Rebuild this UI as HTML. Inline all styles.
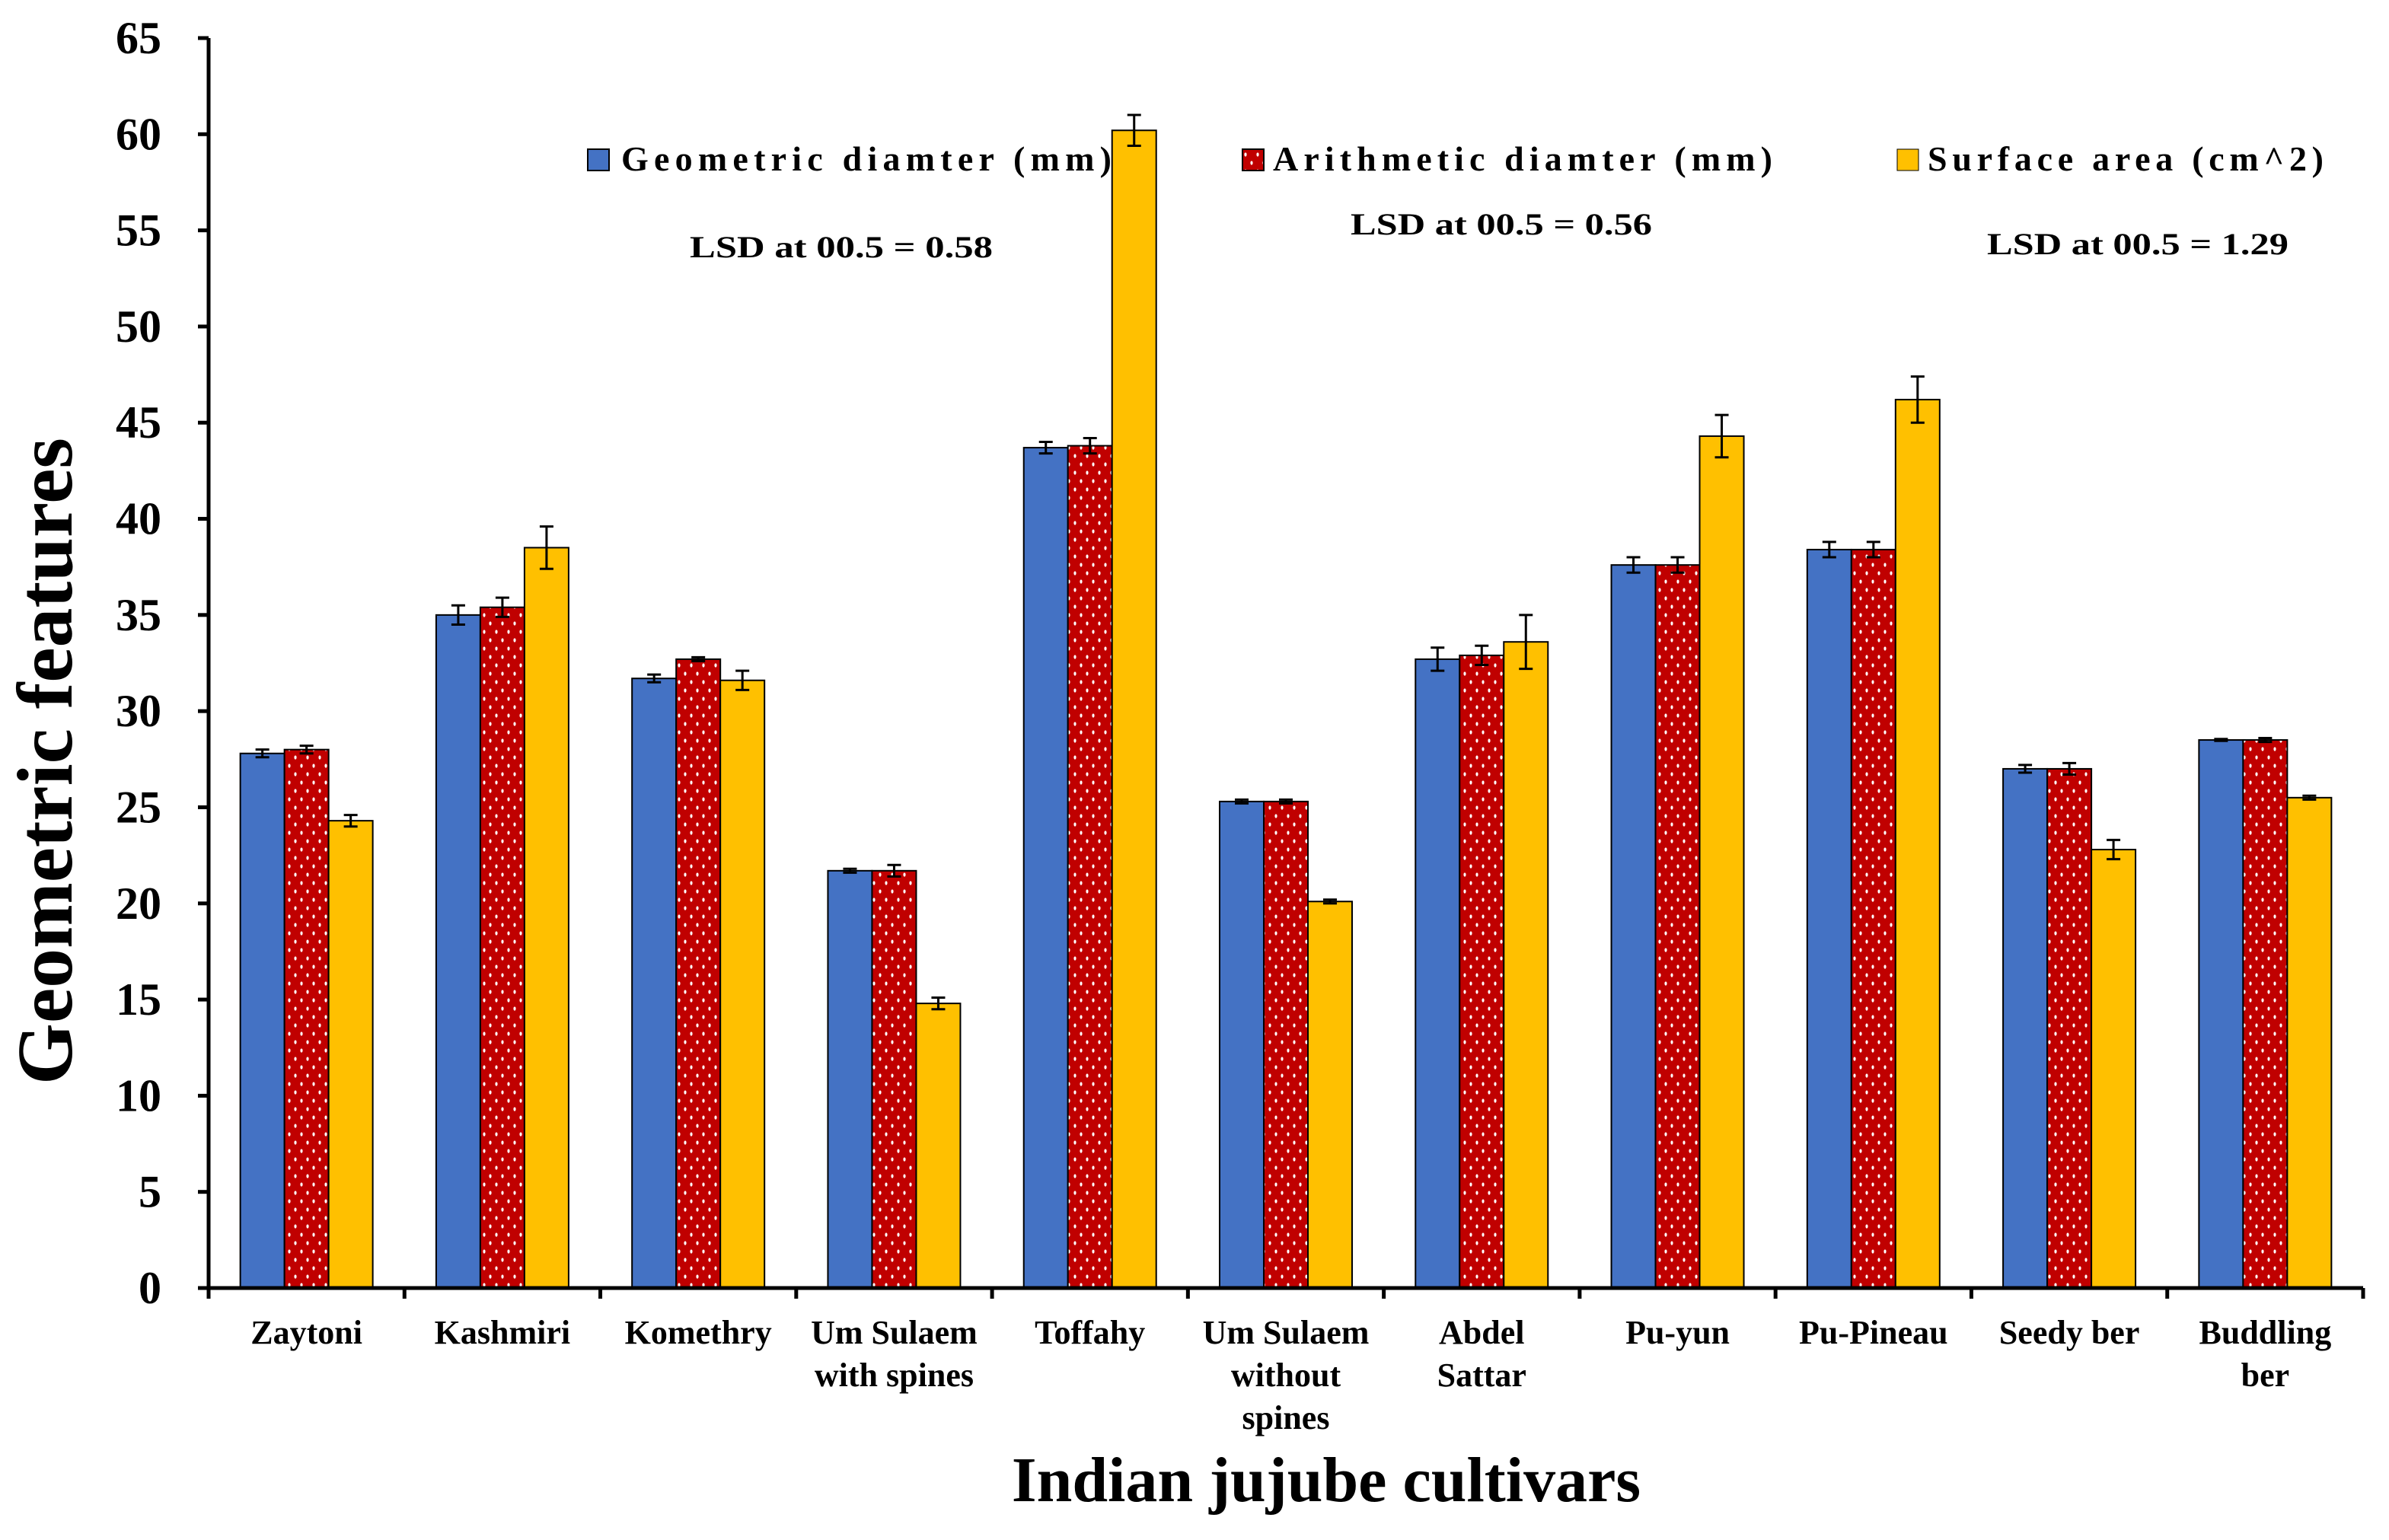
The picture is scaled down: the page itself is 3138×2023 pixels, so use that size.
<!DOCTYPE html>
<html><head><meta charset="utf-8"><style>
html,body{margin:0;padding:0;background:#fff}
svg{display:block}
text{font-family:"Liberation Serif",serif;font-weight:bold;fill:#000}
</style></head><body>
<svg id="chart" width="3138" height="2023" viewBox="0 0 3138 2023" xmlns="http://www.w3.org/2000/svg">
<defs>
<pattern id="dots" width="16" height="22" patternUnits="userSpaceOnUse">
<rect width="16" height="22" fill="#c00000"/>
<ellipse cx="4" cy="5" rx="1.6" ry="2.6" fill="#fff"/>
<ellipse cx="12" cy="16" rx="1.6" ry="2.6" fill="#fff"/>
</pattern>
</defs>
<g id="legend">
<g><rect x="772" y="196" width="28" height="28" fill="#4472c4" stroke="#000" stroke-width="2"/><text x="816" y="224" font-size="46" textLength="644" lengthAdjust="spacing">Geometric diamter (mm)</text></g>
<g><rect x="1632" y="196" width="28" height="28" fill="url(#dots)" stroke="#000" stroke-width="2"/><text x="1672" y="224" font-size="46" textLength="656" lengthAdjust="spacing">Arithmetic diamter (mm)</text></g>
<g><rect x="2492" y="196" width="28" height="28" fill="#ffc000" stroke="#000" stroke-width="1"/><text x="2532" y="224" font-size="46" textLength="520" lengthAdjust="spacing">Surface area (cm^2)</text></g>
</g>
<text x="906" y="338" font-size="40" textLength="398" lengthAdjust="spacingAndGlyphs">LSD at 00.5 = 0.58</text>
<text x="1774" y="308" font-size="40" textLength="396" lengthAdjust="spacingAndGlyphs">LSD at 00.5 = 0.56</text>
<text x="2610" y="334" font-size="40" textLength="396" lengthAdjust="spacingAndGlyphs">LSD at 00.5 = 1.29</text>
<g id="bars"></g>
<g id="axes"></g>
<text transform="translate(94,1000) rotate(-90)" text-anchor="middle" font-size="104">Geometric features</text>
<text x="1742" y="1972" text-anchor="middle" font-size="84">Indian jujube cultivars</text>
</svg>
<script>
const categories = [["Zaytoni"],["Kashmiri"],["Komethry"],["Um Sulaem","with spines"],["Toffahy"],["Um Sulaem","without","spines"],["Abdel","Sattar"],["Pu-yun"],["Pu-Pineau"],["Seedy ber"],["Buddling","ber"]];
const geometric = [27.8,35.0,31.7,21.7,43.7,25.3,32.7,37.6,38.4,27.0,28.5];
const arithmetic = [28.0,35.4,32.7,21.7,43.8,25.3,32.9,37.6,38.4,27.0,28.5];
const surface = [24.3,38.5,31.6,14.8,60.2,20.1,33.6,44.3,46.2,22.8,25.5];
const geometricErr = [0.2,0.5,0.2,0.1,0.3,0.1,0.6,0.4,0.4,0.2,0.05];
const arithmeticErr = [0.2,0.5,0.1,0.3,0.4,0.1,0.5,0.4,0.4,0.3,0.1];
const surfaceErr = [0.3,1.1,0.5,0.3,0.8,0.1,1.4,1.1,1.2,0.5,0.1];
const yTicks = [0,5,10,15,20,25,30,35,40,45,50,55,60,65];

const NS="http://www.w3.org/2000/svg";
const X0=274, X1=3104, Y0=1692, YTOP=50, YMAX=65;
const catW=(X1-X0)/categories.length;
function y(v){return Y0-(v/YMAX)*(Y0-YTOP);}
function xc(i){return X0+catW*(i+0.5);}
function mk(tag,attrs,parent){const e=document.createElementNS(NS,tag);for(const k in attrs)e.setAttribute(k,attrs[k]);parent.appendChild(e);return e;}
const bars=document.getElementById('bars'), axes=document.getElementById('axes');
const series=[{d:geometric,e:geometricErr,f:"#4472c4",n:"geometric"},{d:arithmetic,e:arithmeticErr,f:"url(#dots)",n:"arithmetic"},{d:surface,e:surfaceErr,f:"#ffc000",n:"surface"}];
const bw=58;
categories.forEach((c,i)=>{
  series.forEach((s,j)=>{
    const x=xc(i)+(j-1.5)*bw;
    const r=mk('rect',{x:x,y:y(s.d[i]),width:bw,height:Y0-y(s.d[i]),fill:s.f,stroke:"#000","stroke-width":2},bars);
    
    
    const cx=x+bw/2, t=y(s.d[i]+s.e[i]), b=y(s.d[i]-s.e[i]);
    const g=mk('path',{d:`M${cx-9},${t}H${cx+9}M${cx},${t}V${b}M${cx-9},${b}H${cx+9}`,stroke:"#000","stroke-width":3,fill:"none"},bars);
    
    
  });
  const t=mk('text',{x:xc(i),y:1765,"text-anchor":"middle","font-size":44},axes);
  
  
  c.forEach((ln,k)=>{const ts=mk('tspan',{x:xc(i),dy:k?56:0},t);ts.textContent=ln;});
});
for(let i=0;i<=categories.length;i++){
  const tk=mk('line',{x1:X0+catW*i,x2:X0+catW*i,y1:Y0,y2:Y0+14,stroke:"#000","stroke-width":5},axes);
  
  
}
yTicks.forEach(v=>{
  const l=mk('line',{x1:X0-14,x2:X0,y1:y(v),y2:y(v),stroke:"#000","stroke-width":5},axes);
  
  
  const t=mk('text',{x:X0-62,y:y(v)+20,"text-anchor":"end","font-size":60},axes);
  
  
  t.textContent=v;
});
const ya=mk('line',{x1:X0,x2:X0,y1:YTOP,y2:Y0,stroke:"#000","stroke-width":5},axes);


const xa=mk('line',{x1:X0-14,x2:X1,y1:Y0,y2:Y0,stroke:"#000","stroke-width":5},axes);


</script>
</body></html>
